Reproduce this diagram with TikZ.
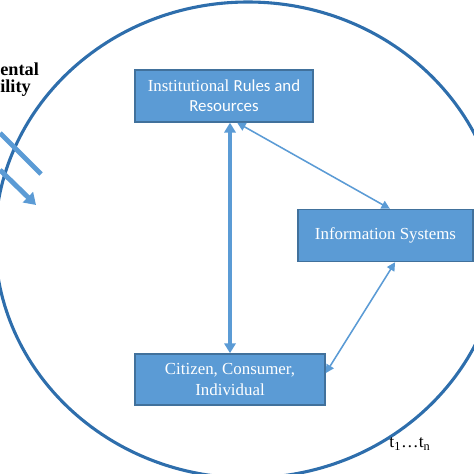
\documentclass[tikz,border=0pt]{standalone}
\usepackage{fontspec}
\setmainfont{Liberation Serif}
\newfontfamily\boxsans{Carlito}
\usetikzlibrary{arrows.meta}
\definecolor{ringblue}{RGB}{46,110,172}
\definecolor{boxblue}{RGB}{91,155,213}
\definecolor{boxedge}{RGB}{65,113,156}
\begin{document}
\begin{tikzpicture}[x=0.025cm,y=-0.025cm,
  box/.style={draw=boxedge,line width=1pt,fill=boxblue,text=white,align=center,
    inner sep=0pt,font=\fontsize{12}{14.5}\selectfont},
  link/.style={boxblue,line width=1.1pt,{Triangle[width=6pt,length=6pt]}-{Triangle[width=6pt,length=6pt]}},
  biglink/.style={boxblue,line width=2.3pt,{Triangle[width=8pt,length=7pt]}-{Triangle[width=8pt,length=7pt]}},
  push/.style={boxblue,line width=3.5pt}]

\useasboundingbox (0,0) rectangle (474,474);
\clip (0,0) rectangle (474,474);

% the setting
\draw[ringblue,line width=2.2pt] (248,240) ellipse [x radius=253,y radius=238];

\node[box,minimum width=4.45cm,minimum height=1.3cm] (inst) at (224,96)
  {Institutional {\boxsans Rules and}\\{\boxsans Resources}};
\node[box,minimum width=4.375cm,minimum height=1.3cm] (info) at (385.5,235.5)
  {Information Systems};
\node[box,minimum width=4.75cm,minimum height=1.28cm] (citizen) at (230,379.5)
  {Citizen, Consumer,\\Individual};

\draw[biglink] (inst.south -| citizen.north) -- (citizen.north);
\draw[link] ([xshift=0.33cm]inst.south) -- ([xshift=0.11cm]info.north);
\draw[link] ([yshift=0.16cm]citizen.east) -- ([xshift=0.24cm]info.south);

% outside pressure
\node[anchor=west,inner sep=0pt,font=\fontsize{13}{15}\bfseries] (envA) at (0,69.5) {ental};
\node[anchor=west,inner sep=0pt,font=\fontsize{13}{15}\bfseries] (envB) at (0,88.5) {ility};
\coordinate (inA) at (0,133);
\coordinate (endA) at (41,174);
\coordinate (inB) at (0,170);
\coordinate (endB) at (36,205);
\draw[push] (inA) -- (endA);
\draw[push,-{Triangle[width=10pt,length=8pt]}] (inB) -- (endB);

\node[font=\fontsize{12.5}{15}\selectfont] (time) at (410,444)
  {t\textsubscript{1}\ldots t\textsubscript{n}};

\end{tikzpicture}
\end{document}
